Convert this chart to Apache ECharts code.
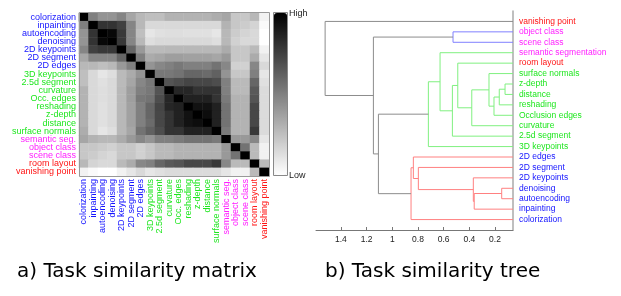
<!DOCTYPE html>
<html>
<head>
<meta charset="utf-8">
<script src="https://cdn.jsdelivr.net/npm/echarts@6/dist/echarts.min.js"></script>
<style>
    html, body {margin: 0; padding: 0; background: #fff;}
    #main {width: 621px; height: 296px;}
</style>
</head>
<body>
<div id="main"></div>
<script>
// ------------------ task similarity matrix ------------------
const tasks = ['colorization', 'inpainting', 'autoencoding', 'denoising', '2D keypoints', '2D segment', '2D edges',
    '3D keypoints', '2.5d segment', 'curvature', 'Occ. edges', 'reshading', 'z-depth', 'distance', 'surface normals',
    'semantic seg.', 'object class', 'scene class', 'room layout', 'vanishing point'];
const taskGroup = ['b', 'b', 'b', 'b', 'b', 'b', 'b', 'g', 'g', 'g', 'g', 'g', 'g', 'g', 'g', 'm', 'm', 'm', 'r', 'r'];

// 1 = high similarity (black), 0 = low (white)
const similarity = [
    [1, .5, .42, .42, .48, .35, .28, .25, .25, .3, .3, .3, .3, .3, .32, .35, .22, .22, .28, .05],
    [.5, 1, .8, .8, .75, .48, .28, .15, .15, .15, .15, .15, .15, .15, .15, .3, .22, .2, .17, .02],
    [.42, .8, 1, .97, .78, .48, .25, .1, .12, .13, .13, .12, .12, .12, .1, .28, .2, .17, .15, 0],
    [.42, .8, .97, 1, .78, .48, .28, .13, .15, .15, .15, .15, .15, .15, .13, .28, .18, .15, .15, 0],
    [.48, .75, .78, .78, 1, .6, .4, .27, .27, .28, .28, .28, .28, .28, .28, .33, .22, .22, .27, .05],
    [.35, .48, .48, .48, .6, 1, .5, .33, .35, .38, .38, .37, .37, .37, .35, .4, .22, .22, .33, .1],
    [.28, .28, .25, .28, .4, .5, 1, .42, .47, .5, .53, .5, .5, .5, .55, .47, .18, .18, .47, .15],
    [.25, .15, .1, .13, .27, .33, .42, 1, .53, .53, .55, .6, .6, .58, .62, .42, .22, .22, .5, .1],
    [.25, .15, .12, .15, .27, .35, .47, .53, 1, .67, .7, .73, .72, .72, .7, .5, .27, .27, .6, .12],
    [.3, .15, .13, .15, .28, .38, .5, .53, .67, 1, .85, .85, .8, .8, .8, .5, .27, .27, .65, .14],
    [.3, .15, .13, .15, .28, .38, .53, .55, .7, .85, 1, .87, .87, .87, .8, .52, .3, .3, .67, .14],
    [.3, .15, .12, .15, .28, .37, .5, .6, .73, .85, .87, 1, .93, .93, .87, .55, .3, .3, .72, .14],
    [.3, .15, .12, .15, .28, .37, .5, .6, .72, .8, .87, .93, 1, .95, .87, .55, .3, .3, .72, .14],
    [.3, .15, .12, .15, .28, .37, .5, .58, .72, .8, .87, .93, .95, 1, .87, .55, .3, .3, .72, .14],
    [.32, .15, .1, .13, .28, .35, .55, .62, .7, .8, .8, .87, .87, .87, 1, .52, .3, .3, .78, .14],
    [.35, .3, .28, .28, .33, .4, .47, .42, .5, .5, .52, .55, .55, .55, .52, 1, .4, .4, .47, .1],
    [.22, .22, .2, .18, .22, .22, .18, .22, .27, .27, .3, .3, .3, .3, .3, .4, 1, .55, .27, .05],
    [.22, .2, .17, .15, .22, .22, .18, .22, .27, .27, .3, .3, .3, .3, .3, .4, .55, 1, .27, .05],
    [.28, .17, .15, .15, .27, .33, .47, .5, .6, .65, .67, .72, .72, .72, .78, .47, .27, .27, 1, .27],
    [.05, .02, 0, 0, .05, .1, .15, .1, .12, .14, .14, .14, .14, .14, .14, .1, .05, .05, .27, 1]
];

// ------------------ task similarity tree ------------------
const leafNames = ['vanishing point', 'object class', 'scene class', 'semantic segmentation', 'room layout',
    'surface normals', 'z-depth', 'distance', 'reshading', 'Occlusion edges', 'curvature', '2.5d segment',
    '3D keypoints', '2D edges', '2D segment', '2D keypoints', 'denoising', 'autoencoding', 'inpainting', 'colorization'];
const leafGroup = ['r', 'm', 'm', 'm', 'r', 'g', 'g', 'g', 'g', 'g', 'g', 'g', 'g', 'b', 'b', 'b', 'b', 'b', 'b', 'b'];

// merges: node 20 + k joins mergeA[k] and mergeB[k] at mergeH[k]
const mergeA = [6, 20, 21, 5, 16, 24, 15, 23, 4, 1, 28, 3, 31, 14, 13, 34, 32, 29, 0];
const mergeB = [7, 8, 9, 22, 17, 18, 25, 10, 27, 2, 11, 30, 12, 26, 33, 19, 35, 36, 37];
const mergeH = [0.122, 0.167, 0.208, 0.247, 0.148, 0.362, 0.369, 0.381, 0.49, 0.527, 0.532, 0.628, 0.719,
    0.797, 0.836, 0.854, 1.108, 1.147, 1.523];
const mergeC = ['g', 'g', 'g', 'g', 'r', 'r', 'r', 'g', 'g', 'b', 'g', 'g', 'g', 'r', 'r', 'r', 'k', 'k', 'k'];

const treeTicks = [0.2, 0.4, 0.6, 0.8, 1, 1.2, 1.4];
const LEAF_H = 0.06;

const TEXT_COLOR = {b: '#1414ff', g: '#1ee61e', m: '#ff1eff', r: '#ff1414'};
const LINE_COLOR = {b: '#8080ff', g: '#80f080', r: '#ff8080', k: '#8c8c8c'};

let heatData = [];
for (let r = 0; r < tasks.length; r++) {
    for (let c = 0; c < tasks.length; c++) {
        heatData.push([c, r, similarity[r][c]]);
    }
}

function taskAxisData() {
    return tasks.map(function (t, i) {
        return {value: t, textStyle: {color: TEXT_COLOR[taskGroup[i]]}};
    });
}

// node positions: leaves at 1..n, merged nodes in the middle of their children
let nodeY = [], nodeH = [];
leafNames.forEach(function (n, i) {
    nodeY.push(i + 1);
    nodeH.push(LEAF_H);
});
let treeLines = [];
for (let k = 0; k < mergeA.length; k++) {
    let a = mergeA[k], b = mergeB[k], h = mergeH[k];
    treeLines.push({
        coords: [[nodeH[a], nodeY[a]], [h, nodeY[a]], [h, nodeY[b]], [nodeH[b], nodeY[b]]],
        lineStyle: {color: LINE_COLOR[mergeC[k]]}
    });
    nodeY.push((nodeY[a] + nodeY[b]) / 2);
    nodeH.push(h);
}

let rich = {};
Object.keys(TEXT_COLOR).forEach(function (g) {
    rich[g] = {color: TEXT_COLOR[g], fontSize: 8.5, fontFamily: 'Liberation Sans'};
});

const myChart = echarts.init(document.getElementById('main'), null, {renderer: 'canvas'});

let option = {
    animation: false,
    backgroundColor: '#fff',
    textStyle: {fontFamily: 'Liberation Sans'},
    title: [
        {
            text: 'a) Task similarity matrix', left: 17, top: 262, padding: 0,
            textStyle: {fontFamily: 'DejaVu Sans', fontSize: 20, fontWeight: 'normal', color: '#000'}
        },
        {
            text: 'b) Task similarity tree', left: 325, top: 262, padding: 0,
            textStyle: {fontFamily: 'DejaVu Sans', fontSize: 20, fontWeight: 'normal', color: '#000'}
        }
    ],
    grid: [
        {left: 79, top: 13, width: 190, height: 163},
        {left: 316, top: 11, width: 197, height: 219}
    ],
    xAxis: [
        {
            type: 'category', gridIndex: 0, data: taskAxisData(), position: 'bottom',
            axisLine: {show: false}, axisTick: {show: false}, splitLine: {show: false},
            axisLabel: {rotate: 90, interval: 0, margin: 3, fontSize: 9, fontFamily: 'Liberation Sans'}
        },
        {
            type: 'value', gridIndex: 1, inverse: true, min: LEAF_H, max: 1.594, position: 'bottom',
            axisLine: {show: true, onZero: false, lineStyle: {color: '#777', width: 1}},
            axisTick: {show: true, inside: true, length: 3, customValues: treeTicks, lineStyle: {color: '#777'}},
            axisLabel: {
                customValues: treeTicks, fontSize: 8.5, color: '#222', margin: 5,
                formatter: function (v) {
                    return String(Math.round(v * 10) / 10);
                }
            },
            splitLine: {show: false}
        }
    ],
    yAxis: [
        {
            type: 'category', gridIndex: 0, data: taskAxisData(), inverse: true,
            axisLine: {show: false}, axisTick: {show: false}, splitLine: {show: false},
            axisLabel: {interval: 0, margin: 3, fontSize: 9, fontFamily: 'Liberation Sans'}
        },
        {
            type: 'value', gridIndex: 1, min: 0, max: 21, inverse: true, position: 'right',
            axisLine: {show: true, onZero: false, lineStyle: {color: '#aaa', width: 1.5}},
            axisTick: {show: false}, splitLine: {show: false},
            axisLabel: {
                customValues: leafNames.map(function (n, i) {
                    return i + 1;
                }),
                margin: 6, align: 'left', rich: rich,
                formatter: function (v) {
                    let i = Math.round(v) - 1;
                    return '{' + leafGroup[i] + '|' + leafNames[i] + '}';
                }
            }
        }
    ],
    visualMap: {
        type: 'continuous', min: 0, max: 1, seriesIndex: 0, calculable: false,
        orient: 'vertical', left: 274, top: 13, itemWidth: 13, itemHeight: 162, padding: 0,
        text: null, showLabel: false,
        inRange: {color: ['#ffffff', '#000000']}
    },
    graphic: [
        {type: 'rect', shape: {x: 79.5, y: 12.5, width: 190, height: 164}, style: {fill: null, stroke: '#999', lineWidth: 1}, z: 100},
        {type: 'rect', shape: {x: 273.5, y: 12.5, width: 14, height: 163}, style: {fill: null, stroke: '#888', lineWidth: 1}, z: 100},
        {type: 'text', x: 289, y: 14, style: {text: 'High', fontSize: 9, fontFamily: 'Liberation Sans', fill: '#222', verticalAlign: 'middle'}},
        {type: 'text', x: 289, y: 176, style: {text: 'Low', fontSize: 9, fontFamily: 'Liberation Sans', fill: '#222', verticalAlign: 'middle'}}
    ],
    series: [
        {
            type: 'heatmap', xAxisIndex: 0, yAxisIndex: 0, data: heatData,
            itemStyle: {borderWidth: 0}, emphasis: {disabled: true}
        },
        {
            type: 'lines', coordinateSystem: 'cartesian2d', xAxisIndex: 1, yAxisIndex: 1,
            polyline: true, data: treeLines, silent: true,
            lineStyle: {width: 1, opacity: 1}
        }
    ]
};

myChart.setOption(option);
</script>
</body>
</html>
